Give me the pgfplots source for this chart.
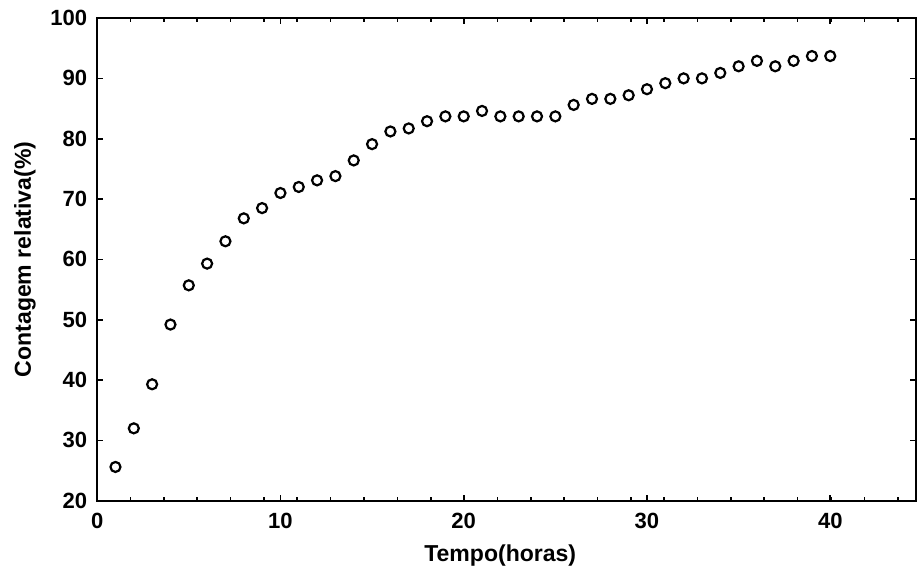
\documentclass[border=0pt]{standalone}
\usepackage{fontspec}
\setmainfont{Liberation Sans}
\usepackage{pgfplots}
\pgfplotsset{compat=1.18}
\begin{document}
\begin{tikzpicture}
\begin{axis}[
  scale only axis,
  width=409pt, height=241pt,
  xmin=0, xmax=44.7, ymin=20, ymax=100,
  xtick={0,10,20,30,40},
  ytick={20,30,...,100},
  minor xtick={1.82,3.64,...,44.6},
  tick align=inside,
  major tick length=3pt, minor tick length=2pt,
  tick style={black, line width=0.8pt},
  axis line style={black, line width=1pt},
  /pgf/number format/assume math mode=true,
  ticklabel style={font=\fontsize{11}{13}\selectfont\bfseries},
  xticklabel style={yshift=-2.5pt},
  yticklabel style={xshift=-1.5pt},
  xlabel={Tempo(horas)},
  ylabel={Contagem relativa(\%)},
  every axis x label/.style={at={(axis description cs:0.492,0)}, yshift=-27.5pt, anchor=center, font=\fontsize{11.5}{14}\selectfont\bfseries},
  every axis y label/.style={at={(axis description cs:0,0.5)}, xshift=-36pt, rotate=90, anchor=center, font=\fontsize{11.5}{14}\selectfont\bfseries},
  clip=false,
]
\addplot[only marks, mark=o, mark size=2.5pt, mark options={line width=1.1pt, black}] coordinates {
(1,25.6) (2,32.0) (3,39.3) (4,49.2) (5,55.7) (6,59.3) (7,63.0) (8,66.8) (9,68.5) (10,71.0)
(11,72.0) (12,73.1) (13,73.8) (14,76.4) (15,79.1) (16,81.2) (17,81.7) (18,82.9) (19,83.7) (20,83.7)
(21,84.6) (22,83.7) (23,83.7) (24,83.7) (25,83.7) (26,85.6) (27,86.6) (28,86.6) (29,87.2) (30,88.2)
(31,89.2) (32,90.0) (33,90.0) (34,90.9) (35,92.0) (36,92.9) (37,92.0) (38,92.9) (39,93.7) (40,93.7)
};
\end{axis}
\pgfresetboundingbox
\path ([shift={(-48.5pt,-39.5pt)}]current axis.south west) rectangle ([shift={(0.8pt,9pt)}]current axis.north east);
\end{tikzpicture}
\end{document}
